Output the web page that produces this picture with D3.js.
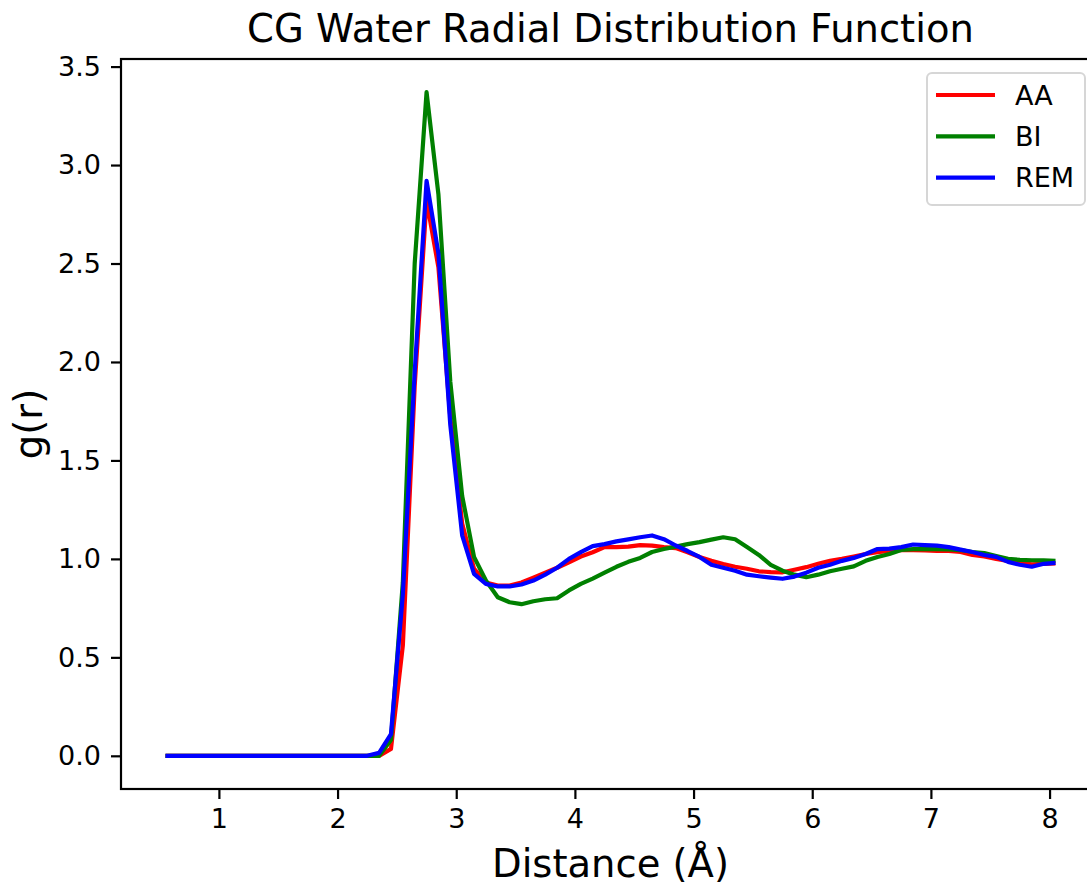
<!DOCTYPE html>
<html>
<head>
<meta charset="utf-8">
<script src="https://d3js.org/d3.v7.min.js"></script>
<style>
  body { margin: 0; background: #fff; }
  svg { font-family: "DejaVu Sans", sans-serif; display: block; }
</style>
</head>
<body>
<div id="chart"></div>
<script>

// distance grid (Å)
var distance = [0.55, 0.65, 0.75, 0.85, 0.95, 1.05, 1.15, 1.25, 1.35, 1.45,
    1.55, 1.65, 1.75, 1.85, 1.95, 2.05, 2.15, 2.25, 2.35, 2.45,
    2.55, 2.65, 2.75, 2.85, 2.95, 3.05, 3.15, 3.25, 3.35, 3.45,
    3.55, 3.65, 3.75, 3.85, 3.95, 4.05, 4.15, 4.25, 4.35, 4.45,
    4.55, 4.65, 4.75, 4.85, 4.95, 5.05, 5.15, 5.25, 5.35, 5.45,
    5.55, 5.65, 5.75, 5.85, 5.95, 6.05, 6.15, 6.25, 6.35, 6.45,
    6.55, 6.65, 6.75, 6.85, 6.95, 7.05, 7.15, 7.25, 7.35, 7.45,
    7.55, 7.65, 7.75, 7.85, 7.95, 8.05];

var gAA = [0, 0, 0, 0, 0, 0, 0, 0, 0, 0,
    0, 0, 0, 0, 0, 0, 0, 0, 0.0, 0.035,
    0.56, 1.88, 2.82, 2.48, 1.72, 1.18, 0.95, 0.88, 0.865, 0.865,
    0.88, 0.905, 0.93, 0.955, 0.983, 1.012, 1.034, 1.06, 1.06, 1.062,
    1.07, 1.067, 1.06, 1.055, 1.034, 1.01, 0.99, 0.974, 0.96, 0.95,
    0.937, 0.933, 0.932, 0.945, 0.958, 0.975, 0.99, 1.0, 1.012, 1.025,
    1.034, 1.04, 1.046, 1.045, 1.043, 1.04, 1.04, 1.035, 1.02, 1.012,
    1.0, 0.99, 0.98, 0.972, 0.975, 0.977];

var gBI = [0, 0, 0, 0, 0, 0, 0, 0, 0, 0,
    0, 0, 0, 0, 0, 0, 0, 0, 0.0, 0.08,
    0.88, 2.50, 3.37, 2.85, 1.90, 1.32, 1.01, 0.89, 0.805, 0.78,
    0.77, 0.785, 0.795, 0.80, 0.84, 0.873, 0.90, 0.93, 0.96, 0.985,
    1.005, 1.035, 1.05, 1.062, 1.075, 1.085, 1.098, 1.11, 1.10, 1.06,
    1.02, 0.97, 0.94, 0.92, 0.907, 0.92, 0.937, 0.95, 0.962, 0.99,
    1.01, 1.025, 1.045, 1.05, 1.05, 1.05, 1.048, 1.045, 1.035, 1.03,
    1.015, 1.0, 0.995, 0.993, 0.992, 0.99];

var gREM = [0, 0, 0, 0, 0, 0, 0, 0, 0, 0,
    0, 0, 0, 0, 0, 0, 0, 0, 0.015, 0.11,
    0.82, 1.95, 2.92, 2.55, 1.68, 1.12, 0.924, 0.873, 0.86, 0.86,
    0.87, 0.89, 0.92, 0.955, 1.0, 1.034, 1.065, 1.075, 1.089, 1.099,
    1.11, 1.119, 1.10, 1.068, 1.04, 1.01, 0.97, 0.955, 0.94, 0.92,
    0.912, 0.905, 0.899, 0.91, 0.93, 0.955, 0.97, 0.99, 1.005, 1.025,
    1.05, 1.052, 1.06, 1.073, 1.07, 1.067, 1.06, 1.047, 1.035, 1.02,
    1.01, 0.985, 0.97, 0.96, 0.975, 0.98];

var seriesNames = ["AA", "BI", "REM"];
var seriesColors = ["#ff0000", "#008000", "#0000ff"];
var xTicks = [1, 2, 3, 4, 5, 6, 7, 8];
var yTicks = [0, 0.5, 1.0, 1.5, 2.0, 2.5, 3.0, 3.5];

var W = 1087, H = 886;
var plotLeft = 121, plotRight = 1100, plotTop = 59, plotBottom = 789;

var svg = d3.select("#chart").append("svg")
    .attr("width", W)
    .attr("height", H);

// matplotlib-like 5% margins
var x = d3.scaleLinear().domain([0.175, 8.425]).range([plotLeft, plotRight]);
var y = d3.scaleLinear().domain([-0.1685, 3.5385]).range([plotBottom, plotTop]);

var series = [gAA, gBI, gREM];

var line = d3.line()
    .x(function (d, i) { return x(distance[i]); })
    .y(function (d) { return y(d); });

var plot = svg.append("g");
series.forEach(function (s, k) {
    plot.append("path")
        .datum(s)
        .attr("fill", "none")
        .attr("stroke", seriesColors[k])
        .attr("stroke-width", 4.2)
        .attr("stroke-linejoin", "round")
        .attr("stroke-linecap", "butt")
        .attr("d", line);
});

// axes
var xAxis = svg.append("g")
    .attr("transform", "translate(0," + plotBottom + ")")
    .call(d3.axisBottom(x).tickValues(xTicks).tickFormat(d3.format("d")).tickSize(10).tickPadding(10).tickSizeOuter(0));
var yAxis = svg.append("g")
    .attr("transform", "translate(" + plotLeft + ",0)")
    .call(d3.axisLeft(y).tickValues(yTicks).tickFormat(d3.format(".1f")).tickSize(10).tickPadding(10).tickSizeOuter(0));

[xAxis, yAxis].forEach(function (a) {
    a.select(".domain").remove();
    a.selectAll(".tick line").attr("stroke", "#000").attr("stroke-width", 2.2);
    a.selectAll(".tick text").attr("fill", "#000")
        .style("font-size", "27px")
        .style("font-family", "DejaVu Sans");
});
xAxis.selectAll(".tick text").attr("y", 39).attr("dy", null);
yAxis.selectAll(".tick text").attr("dy", "0.33em");

// spines (right spine falls outside the picture)
svg.append("rect")
    .attr("x", plotLeft).attr("y", plotTop)
    .attr("width", plotRight - plotLeft).attr("height", plotBottom - plotTop)
    .attr("fill", "none")
    .attr("stroke", "#000")
    .attr("stroke-width", 2.2);

// title & labels
svg.append("text")
    .attr("x", (plotLeft + plotRight) / 2).attr("y", 42)
    .attr("text-anchor", "middle")
    .style("font-size", "38.5px")
    .text("CG Water Radial Distribution Function");

svg.append("text")
    .attr("x", (plotLeft + plotRight) / 2).attr("y", 877)
    .attr("text-anchor", "middle")
    .style("font-size", "38.5px")
    .text("Distance (Å)");

svg.append("text")
    .attr("transform", "translate(42," + ((plotTop + plotBottom) / 2) + ") rotate(-90)")
    .attr("text-anchor", "middle")
    .style("font-size", "38.5px")
    .text("g(r)");

// legend
var lg = svg.append("g").attr("transform", "translate(927,73)");
lg.append("rect")
    .attr("width", 158).attr("height", 132)
    .attr("rx", 5).attr("ry", 5)
    .attr("fill", "#fff").attr("fill-opacity", 0.8)
    .attr("stroke", "#d6d6d6").attr("stroke-width", 2);
seriesNames.forEach(function (name, k) {
    var ly = 22 + k * 41.3;
    lg.append("line")
        .attr("x1", 9).attr("x2", 68)
        .attr("y1", ly).attr("y2", ly)
        .attr("stroke", seriesColors[k]).attr("stroke-width", 4.2);
    lg.append("text")
        .attr("x", 88).attr("y", ly).attr("dy", "0.36em")
        .style("font-size", "27px")
        .text(name);
});

</script>
</body>
</html>
